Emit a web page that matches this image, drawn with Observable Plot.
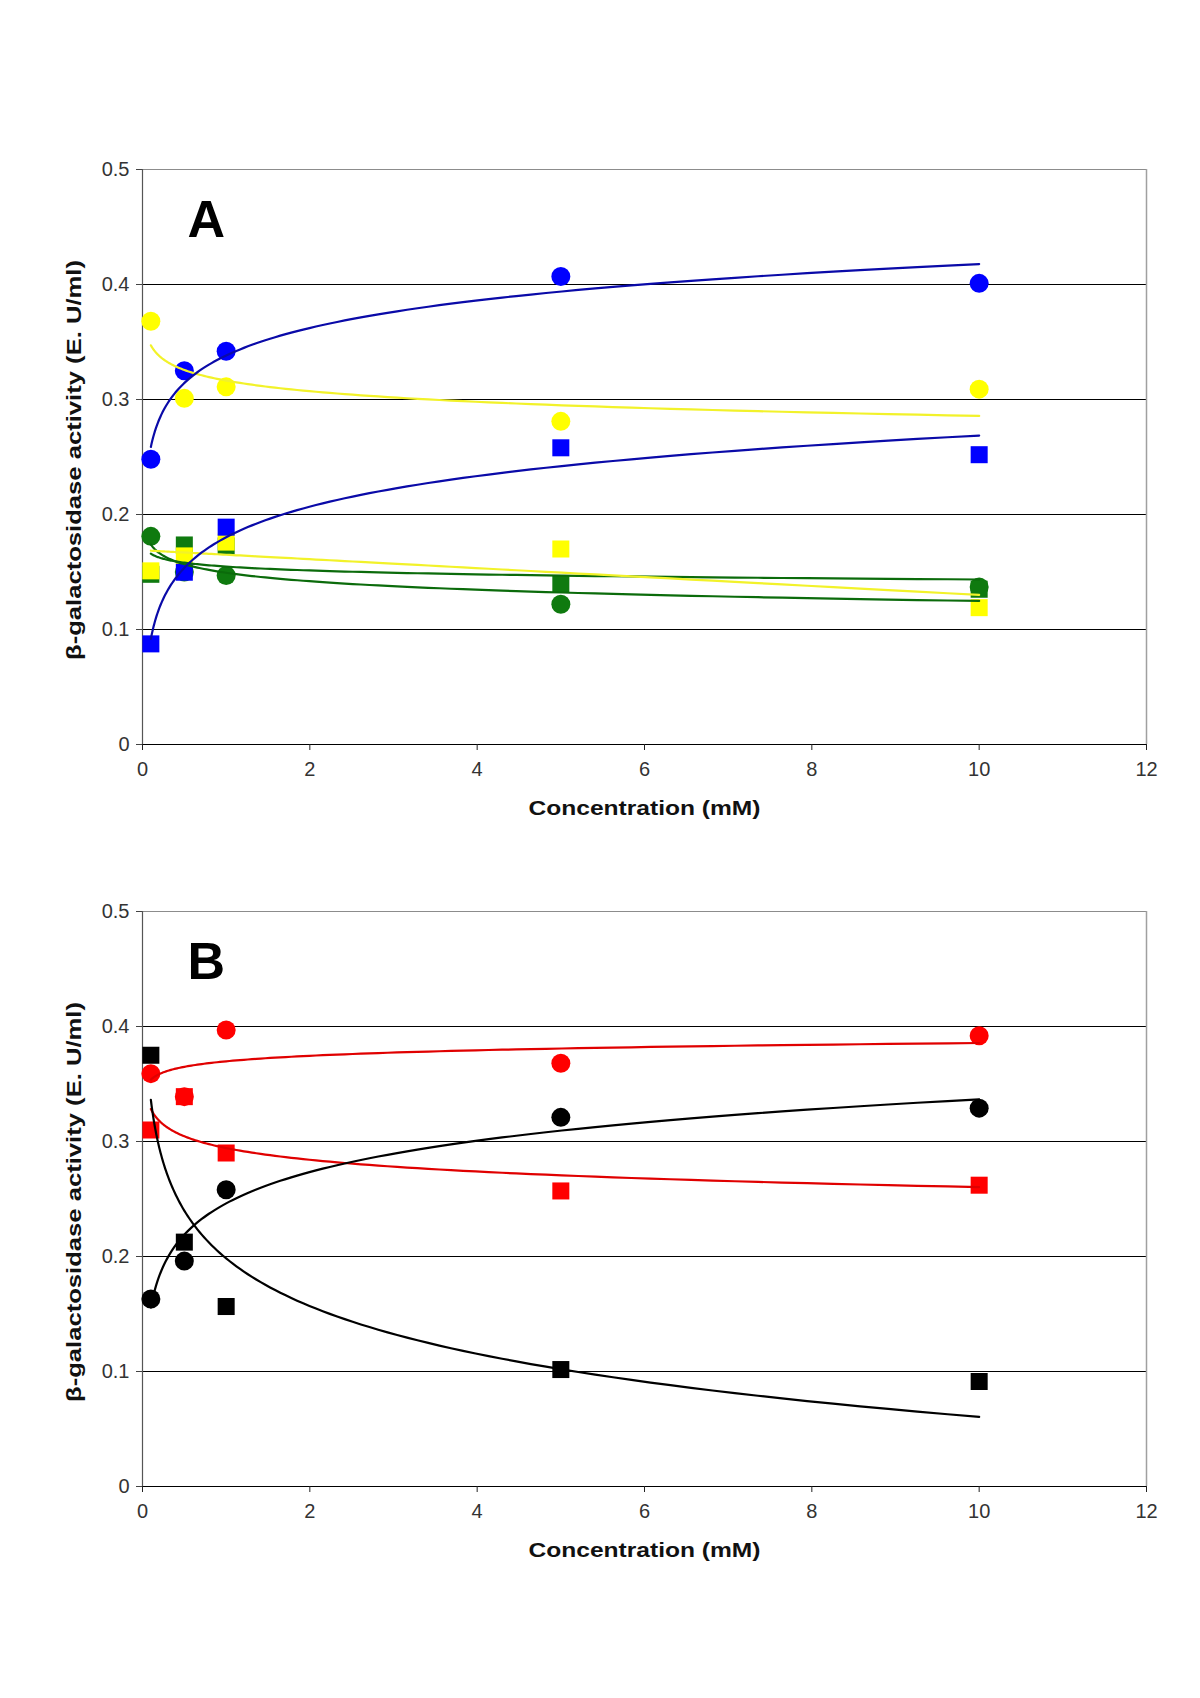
<!DOCTYPE html>
<html>
<head>
<meta charset="utf-8">
<script src="https://cdn.jsdelivr.net/npm/d3@7"></script>
<script src="https://cdn.jsdelivr.net/npm/@observablehq/plot@0.6"></script>
<style>
  html, body { margin: 0; padding: 0; background: #fff; }
  #page { position: relative; width: 1200px; height: 1698px; background: #fff; overflow: hidden; }
  .panel { position: absolute; left: 0; }
</style>
</head>
<body>
<div id="page">
  <div id="panelA" class="panel" style="top:0px"></div>
  <div id="panelB" class="panel" style="top:830px"></div>
</div>
<script>
// ---- data ----
const conc = [0.1, 0.5, 1, 5, 10];            // concentration, mM
const xTicks = [0, 2, 4, 6, 8, 10, 12];
const yTicks = [0, 0.1, 0.2, 0.3, 0.4, 0.5];
const xTitle = "Concentration (mM)";
const yTitle = "β-galactosidase activity (E. U/ml)";

// Panel A
const aBlueCircle   = [0.248, 0.325, 0.342, 0.407, 0.401];
const aBlueSquare   = [0.0875, 0.1498, 0.189, 0.258, 0.252];
const aYellowCircle = [0.368, 0.301, 0.311, 0.281, 0.309];
const aYellowSquare = [0.151, 0.164, 0.176, 0.170, 0.119];
const aGreenCircle  = [0.181, 0.150, 0.147, 0.122, 0.137];
const aGreenSquare  = [0.148, 0.1735, 0.1726, 0.140, 0.135];
// Panel B
const bRedCircle    = [0.359, 0.339, 0.397, 0.368, 0.392];
const bRedSquare    = [0.310, 0.339, 0.290, 0.257, 0.262];
const bBlackCircle  = [0.163, 0.196, 0.258, 0.321, 0.329];
const bBlackSquare  = [0.375, 0.2125, 0.1565, 0.1017, 0.0913];

// series: drawing order bottom -> top ; fit = trendline type (as in the spreadsheet)
const seriesA = [
  {values: aGreenCircle,  fill: "#0f7a0f", line: "#0b6b0b", symbol: "circle", fit: "log"},
  {values: aGreenSquare,  fill: "#0f7a0f", line: "#0b6b0b", symbol: "square", fit: "log"},
  {values: aYellowSquare, fill: "#ffff00", line: "#f2f22a", symbol: "square", fit: "linear"},
  {values: aYellowCircle, fill: "#ffff00", line: "#f2f22a", symbol: "circle", fit: "log"},
  {values: aBlueSquare,   fill: "#0000ff", line: "#0a0aa8", symbol: "square", fit: "log"},
  {values: aBlueCircle,   fill: "#0000ff", line: "#0a0aa8", symbol: "circle", fit: "log"}
];
const seriesB = [
  {values: bRedSquare,    fill: "#ff0000", line: "#e00000", symbol: "square", fit: "log"},
  {values: bRedCircle,    fill: "#ff0000", line: "#e00000", symbol: "circle", fit: "log"},
  {values: bBlackSquare,  fill: "#000000", line: "#000000", symbol: "square", fit: "log"},
  {values: bBlackCircle,  fill: "#000000", line: "#000000", symbol: "circle", fit: "log"}
];

// least-squares trendline computed from the data points (log or linear in x)
function trend(xs, ys, type) {
  const t = type === "log" ? xs.map(Math.log) : xs.slice();
  const n = t.length;
  const mt = d3.mean(t), my = d3.mean(ys);
  let sxy = 0, sxx = 0;
  for (let i = 0; i < n; i++) { sxy += (t[i] - mt) * (ys[i] - my); sxx += (t[i] - mt) ** 2; }
  const slope = sxy / sxx, icpt = my - slope * mt;
  const lo = d3.min(xs), hi = d3.max(xs);
  const samples = d3.range(0, 121).map(i => lo * Math.pow(hi / lo, i / 120));
  return samples.map(x => ({x, y: icpt + slope * (type === "log" ? Math.log(x) : x)}));
}

function panel(series, letter, marginTop, marginBottom, height) {
  const marks = [];
  // grid & frame
  marks.push(Plot.ruleY([0.1, 0.2, 0.3, 0.4], {stroke: "#000", strokeWidth: 1}));
  marks.push(Plot.ruleY([0.5], {stroke: "#8c8c8c", strokeWidth: 1.2}));
  marks.push(Plot.ruleX([12], {stroke: "#a0a0a0", strokeWidth: 1.5}));
  marks.push(Plot.ruleX([0], {stroke: "#555", strokeWidth: 1.2}));
  marks.push(Plot.ruleY([0], {stroke: "#000", strokeWidth: 1.2}));
  marks.push(Plot.axisX({ticks: xTicks, tickSize: 6, tickPadding: 11, fontSize: 20, stroke: "#222", fill: "#333", label: null, tickFormat: d => String(d)}));
  marks.push(Plot.axisY({ticks: yTicks, tickSize: 6, tickPadding: 7, fontSize: 20, stroke: "#444", fill: "#333", label: null, tickFormat: d => String(d)}));
  // markers
  for (const s of series) {
    const pts = conc.map((x, i) => ({x, y: s.values[i]}));
    marks.push(Plot.dot(pts, {x: "x", y: "y", symbol: () => s.symbol, fill: s.fill, stroke: "none",
      r: s.symbol === "circle" ? 9.5 : 9.6}));
  }
  // trendlines
  for (const s of series) {
    marks.push(Plot.line(trend(conc, s.values, s.fit), {x: "x", y: "y", stroke: s.line, strokeWidth: 2.2, curve: "linear"}));
  }
  // texts
  marks.push(Plot.text([letter], {frameAnchor: "top-left", dx: 45, dy: 31, textAnchor: "start", lineAnchor: "top",
    fontSize: 52, fontWeight: "bold", fill: "#000", fontFamily: "Liberation Sans, Arial, sans-serif"}));
  marks.push(Plot.text([xTitle], {frameAnchor: "bottom", dy: 64, lineAnchor: "middle", fontSize: 21, fontWeight: "bold",
    fill: "#111", className: "xtitle"}));
  marks.push(Plot.text([yTitle], {frameAnchor: "left", dx: -68, dy: 3, rotate: -90, textAnchor: "middle", lineAnchor: "middle", fontSize: 21,
    fontWeight: "bold", fill: "#111", className: "ytitle"}));

  const svg = Plot.plot({
    width: 1200,
    height,
    marginLeft: 142,
    marginRight: 54,
    marginTop,
    marginBottom,
    style: {fontFamily: "Liberation Sans, Arial, sans-serif", background: "#fff", overflow: "visible"},
    x: {domain: [0, 12], ticks: xTicks},
    y: {domain: [0, 0.5], ticks: yTicks},
    symbol: {type: "identity"},
    marks
  });
  d3.select(svg).selectAll(".xtitle text").attr("textLength", 232).attr("lengthAdjust", "spacingAndGlyphs");
  d3.select(svg).selectAll(".ytitle text").attr("textLength", 400).attr("lengthAdjust", "spacingAndGlyphs");
  return svg;
}

document.getElementById("panelA").appendChild(panel(seriesA, "A", 169, 86, 830));
document.getElementById("panelB").appendChild(panel(seriesB, "B", 81, 212, 868));
</script>
</body>
</html>
